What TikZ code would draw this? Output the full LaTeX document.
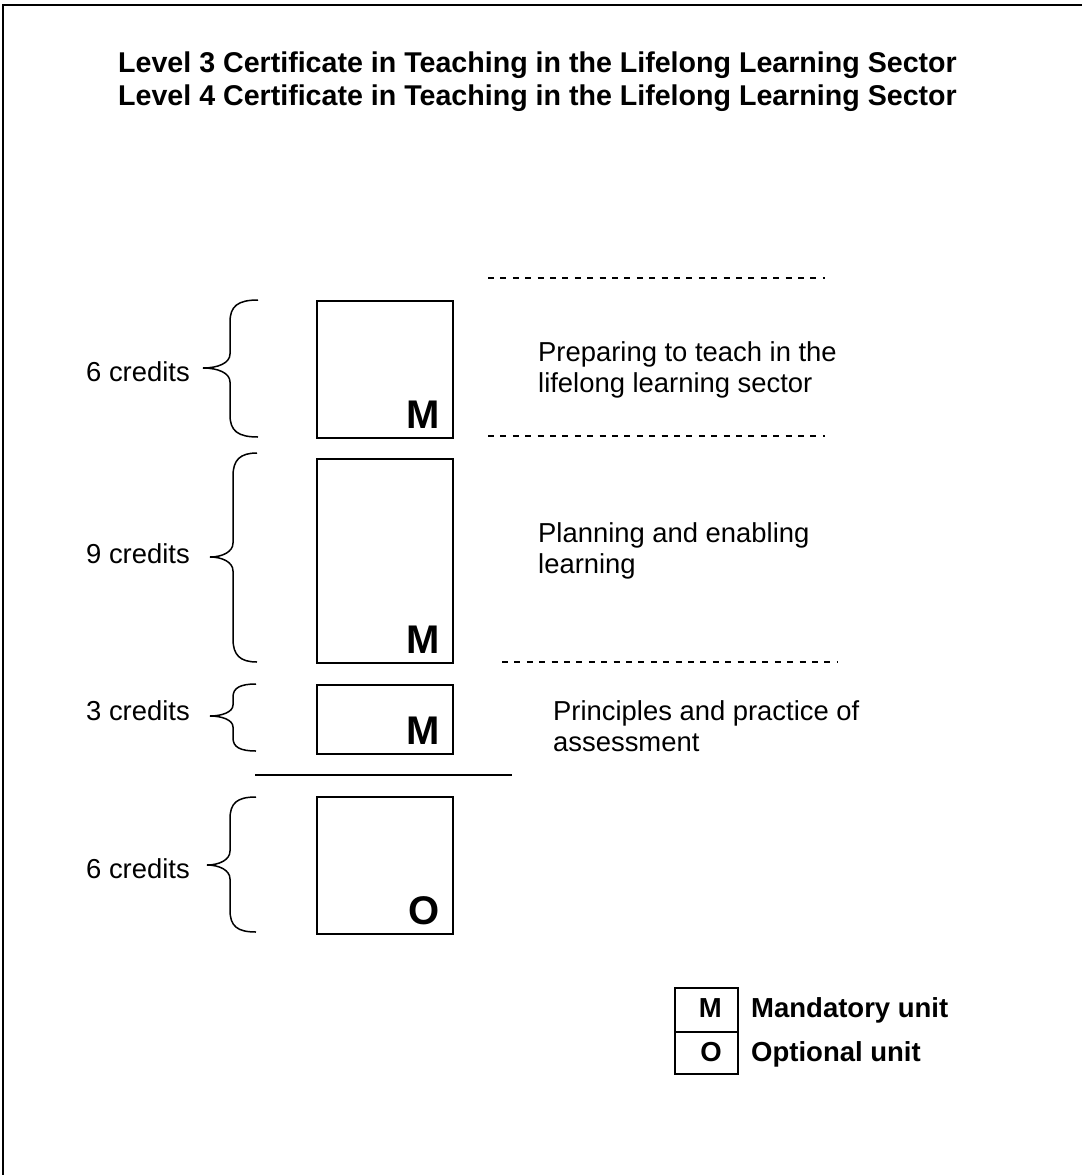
\documentclass[tikz,border=0pt]{standalone}
\usepackage{fontspec}
\setmainfont{Liberation Sans}
\usetikzlibrary{calc}
\begin{document}
\begin{tikzpicture}[x=1pt,y=-1pt,
  framestyle/.style={line width=2pt},
  unitbox/.style={draw, line width=1.6pt, inner sep=0pt, anchor=north west},
  letter/.style={font=\fontsize{40}{40}\selectfont\bfseries, inner sep=0pt, anchor=base east},
  bodytext/.style={font=\fontsize{27.4}{31}\selectfont, inner sep=0pt, anchor=base west, align=left},
  titletext/.style={font=\fontsize{28.6}{33}\selectfont\bfseries, inner sep=0pt, anchor=base west, align=left},
  legtext/.style={font=\fontsize{27.5}{31}\selectfont\bfseries, inner sep=0pt},
  sepline/.style={line width=1.4pt, dash pattern=on 6pt off 6.4pt},
  bracestyle/.style={line width=1.5pt}
]
\useasboundingbox (0,0) rectangle (1082,1175);
% frame (top and left visible)
\draw[framestyle] (3,1175) -- (3,5) -- (1082,5);

% title (base anchor = baseline of last line)
\node[titletext] (title) at (118,105) {Level 3 Certificate in Teaching in the Lifelong Learning Sector\\Level 4 Certificate in Teaching in the Lifelong Learning Sector};

% unit boxes
\node[unitbox, minimum width=136, minimum height=137] (b1) at (316,300) {};
\node[unitbox, minimum width=136, minimum height=204] (b2) at (316,458) {};
\node[unitbox, minimum width=136, minimum height=69] (b3) at (316,684) {};
\node[unitbox, minimum width=136, minimum height=137] (b4) at (316,796) {};

\node[letter] (m1) at ($(b1.south east)+(-14,-10)$) {M};
\node[letter] (m2) at ($(b2.south east)+(-14,-10)$) {M};
\node[letter] (m3) at ($(b3.south east)+(-14,-10)$) {M};
\node[letter] (o4) at ($(b4.south east)+(-14,-10)$) {O};

% separators
\coordinate (d1a) at (488,278); \coordinate (d1b) at (825,278);
\coordinate (d2a) at (488,436); \coordinate (d2b) at (825,436);
\coordinate (d3a) at (502,662); \coordinate (d3b) at (838,662);
\draw[sepline] (d1a) -- (d1b);
\draw[sepline] (d2a) -- (d2b);
\draw[sepline] (d3a) -- (d3b);
\coordinate (s1) at (255,775); \coordinate (s2) at (512,775);
\draw[line width=1.6pt] (s1) -- (s2);

% unit titles (base anchor = baseline of last line)
\node[bodytext] (t1) at (538,392) {Preparing to teach in the\\lifelong learning sector};
\node[bodytext] (t2) at (538,573) {Planning and enabling\\learning};
\node[bodytext] (t3) at (553,751) {Principles and practice of\\assessment};

% credits
\node[bodytext] (c1) at (86,381) {6 credits};
\node[bodytext] (c2) at (86,563) {9 credits};
\node[bodytext] (c3) at (86,720) {3 credits};
\node[bodytext] (c4) at (86,878) {6 credits};

% braces
\draw[bracestyle] (258,300) .. controls (238,300) and (230,306) .. (230,322) -- (230,354)
  .. controls (230,363) and (218,368) .. (203,368)
  .. controls (218,368) and (230,373) .. (230,382) -- (230,415)
  .. controls (230,431) and (238,437) .. (258,437);
\draw[bracestyle] (257,453) .. controls (240,453) and (233,460) .. (233,476) -- (233,543)
  .. controls (233,552) and (222,557) .. (210,557)
  .. controls (222,557) and (233,562) .. (233,571) -- (233,639)
  .. controls (233,655) and (240,662) .. (257,662);
\draw[bracestyle] (256,684) .. controls (240,684) and (233,688) .. (233,697) -- (233,705)
  .. controls (233,712) and (222,716) .. (210,716)
  .. controls (222,716) and (233,720) .. (233,727) -- (233,738)
  .. controls (233,747) and (240,751) .. (256,751);
\draw[bracestyle] (256,797) .. controls (237,797) and (230,803) .. (230,819) -- (230,851)
  .. controls (230,860) and (219,865) .. (207,865)
  .. controls (219,865) and (230,870) .. (230,879) -- (230,910)
  .. controls (230,926) and (237,932) .. (256,932);

% legend
\node[draw, line width=1.5pt, minimum width=63, minimum height=44, inner sep=0pt, anchor=north west] (lm) at (674,987) {};
\node[draw, line width=1.5pt, minimum width=63, minimum height=42, inner sep=0pt, anchor=north west] (lo) at (674,1031) {};
\node[legtext, anchor=base east] (lmt) at (722,1017) {M};
\node[legtext, anchor=base east] (lot) at (722,1061) {O};
\node[legtext, anchor=base west] (lmd) at (751,1017) {Mandatory unit};
\node[legtext, anchor=base west] (lod) at (751,1061) {Optional unit};
\end{tikzpicture}
\end{document}
